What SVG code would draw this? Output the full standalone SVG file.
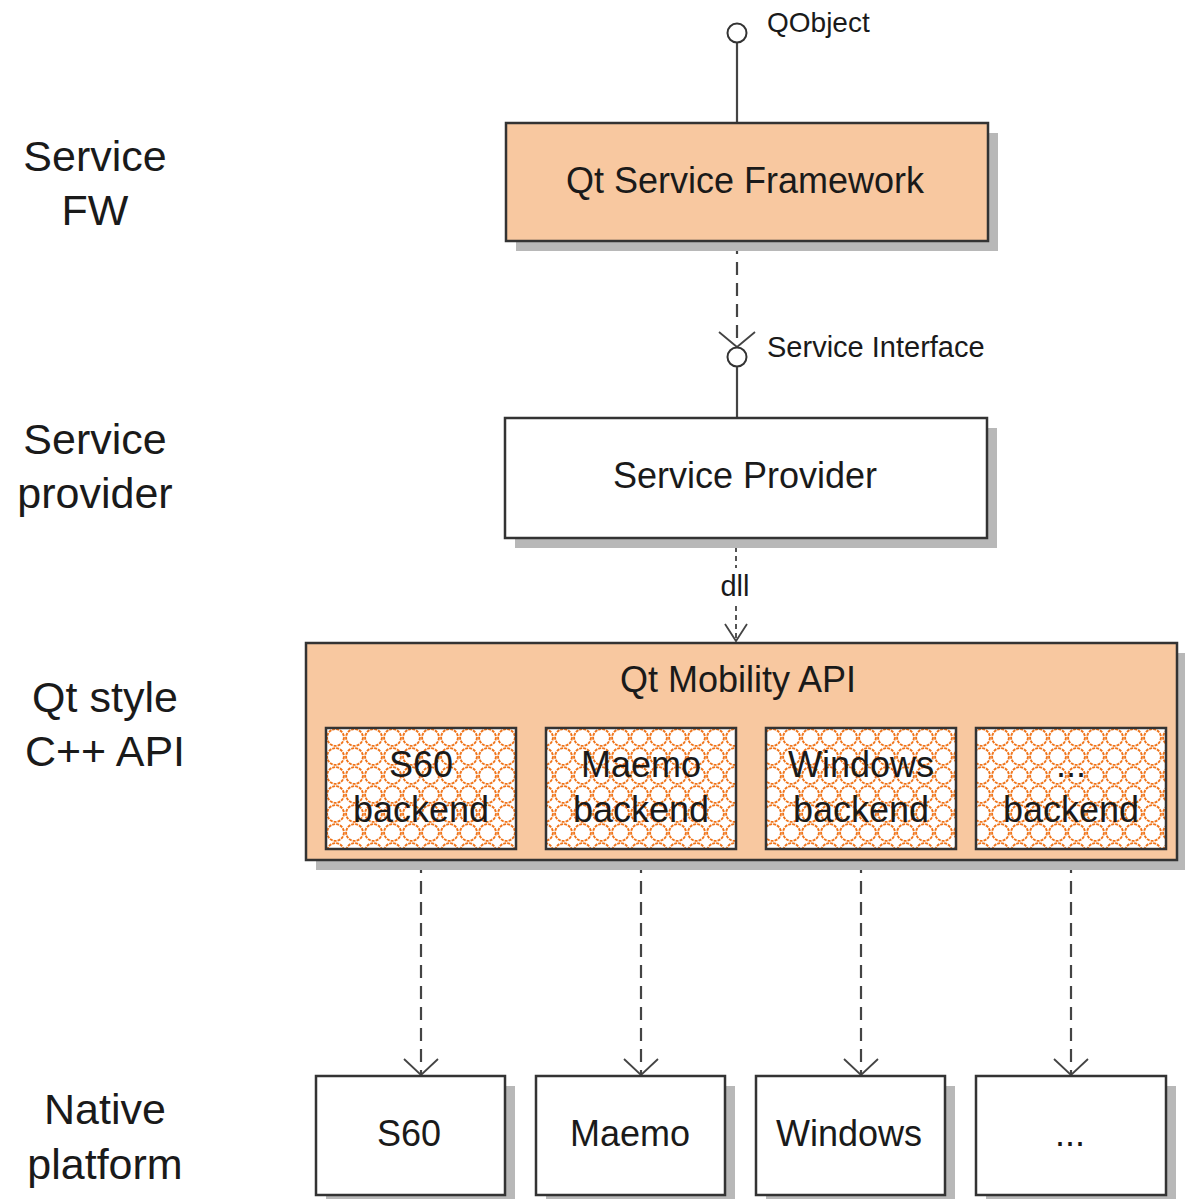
<svg xmlns="http://www.w3.org/2000/svg" width="1185" height="1199" viewBox="0 0 1185 1199">
<style>
text{font-family:"Liberation Sans",Arial,sans-serif;fill:#1a1a1a}
.lbl{font-size:43px;text-anchor:middle}
.big{font-size:36px;text-anchor:middle}
.sm{font-size:29px}
.box{stroke:#333;stroke-width:2.5}
.shadow{fill:#b8b8b8}
.orange{fill:#f8c8a0}
.white{fill:#fff}
.conn{stroke:#444;stroke-width:2.2;fill:none}
.dash{stroke-dasharray:13 8}
.arrow{stroke:#444;stroke-width:1.8;fill:none}
</style>
<defs>
<pattern id="lattice" x="326" y="728" width="19" height="19" patternUnits="userSpaceOnUse">
<rect width="19" height="19" fill="#fff"/>
<circle cx="9.5" cy="9.5" r="8.4" fill="none" stroke="#f07318" stroke-width="1.9" stroke-dasharray="3 1"/>
</pattern>
</defs>
<rect width="1185" height="1199" fill="#fff"/>

<g id="layer-labels">
<text class="lbl" x="95" y="171">Service</text>
<text class="lbl" x="95" y="225">FW</text>
<text class="lbl" x="95" y="454">Service</text>
<text class="lbl" x="95" y="508">provider</text>
<text class="lbl" x="105" y="712">Qt style</text>
<text class="lbl" x="105" y="766">C++ API</text>
<text class="lbl" x="105" y="1124">Native</text>
<text class="lbl" x="105" y="1179">platform</text>
</g>

<g id="connectors">
<line class="conn" x1="737" y1="43" x2="737" y2="123"/>
<circle cx="737" cy="33" r="9.5" fill="#fff" stroke="#333" stroke-width="2"/>
<text class="sm" x="767" y="32" style="font-size:28px">QObject</text>

<line class="conn dash" x1="737" y1="241" x2="737" y2="338"/>
<polyline class="arrow" points="719,332 737,347 755,332"/>
<circle cx="737" cy="357" r="9.5" fill="#fff" stroke="#333" stroke-width="2"/>
<line class="conn" x1="737" y1="367" x2="737" y2="418"/>
<text class="sm" x="767" y="357">Service Interface</text>

<line class="conn" x1="736" y1="538" x2="736" y2="568" style="stroke-dasharray:5 4;stroke-width:1.8"/>
<line class="conn" x1="736" y1="606" x2="736" y2="641" style="stroke-dasharray:5 4;stroke-width:1.8"/>
<polyline class="arrow" points="725,624 736,641 747,624"/>
<text x="735" y="596" style="font-size:29px;text-anchor:middle">dll</text>

<line class="conn dash" x1="421" y1="860" x2="421" y2="1075"/>
<polyline class="arrow" points="404,1059 421,1075 438,1059"/>
<line class="conn dash" x1="641" y1="860" x2="641" y2="1075"/>
<polyline class="arrow" points="624,1059 641,1075 658,1059"/>
<line class="conn dash" x1="861" y1="860" x2="861" y2="1075"/>
<polyline class="arrow" points="844,1059 861,1075 878,1059"/>
<line class="conn dash" x1="1071" y1="860" x2="1071" y2="1075"/>
<polyline class="arrow" points="1054,1059 1071,1075 1088,1059"/>
</g>

<g id="qt-service-framework">
<rect class="shadow" x="516" y="133" width="482" height="118"/>
<rect class="box orange" x="506" y="123" width="482" height="118"/>
<text class="big" x="745" y="193">Qt Service Framework</text>
</g>

<g id="service-provider">
<rect class="shadow" x="515" y="428" width="482" height="120"/>
<rect class="box white" x="505" y="418" width="482" height="120"/>
<text class="big" x="745" y="488">Service Provider</text>
</g>

<g id="qt-mobility-api">
<rect class="shadow" x="316" y="653" width="871" height="217"/>
<rect class="box orange" x="306" y="643" width="871" height="217"/>
<text class="big" x="738" y="692">Qt Mobility API</text>
</g>

<g id="s60-backend">
<rect class="box" x="326" y="728" width="190" height="121" fill="url(#lattice)"/>
<text class="big" x="421" y="777">S60</text>
<text class="big" x="421" y="822">backend</text>
</g>
<g id="maemo-backend">
<rect class="box" x="546" y="728" width="190" height="121" fill="url(#lattice)"/>
<text class="big" x="641" y="777">Maemo</text>
<text class="big" x="641" y="822">backend</text>
</g>
<g id="windows-backend">
<rect class="box" x="766" y="728" width="190" height="121" fill="url(#lattice)"/>
<text class="big" x="861" y="777">Windows</text>
<text class="big" x="861" y="822">backend</text>
</g>
<g id="other-backend">
<rect class="box" x="976" y="728" width="190" height="121" fill="url(#lattice)"/>
<text class="big" x="1071" y="777">...</text>
<text class="big" x="1071" y="822">backend</text>
</g>

<g id="native-s60">
<rect class="shadow" x="326" y="1086" width="189" height="113"/>
<rect class="box white" x="316" y="1076" width="189" height="119"/>
<text class="big" x="409" y="1146">S60</text>
</g>
<g id="native-maemo">
<rect class="shadow" x="546" y="1086" width="189" height="113"/>
<rect class="box white" x="536" y="1076" width="189" height="119"/>
<text class="big" x="630" y="1146">Maemo</text>
</g>
<g id="native-windows">
<rect class="shadow" x="766" y="1086" width="189" height="113"/>
<rect class="box white" x="756" y="1076" width="189" height="119"/>
<text class="big" x="849" y="1146">Windows</text>
</g>
<g id="native-other">
<rect class="shadow" x="986" y="1086" width="190" height="113"/>
<rect class="box white" x="976" y="1076" width="190" height="119"/>
<text class="big" x="1070" y="1146">...</text>
</g>
</svg>
